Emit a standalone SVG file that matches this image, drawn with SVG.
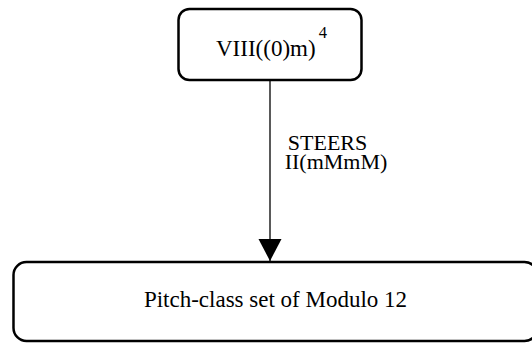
<svg xmlns="http://www.w3.org/2000/svg" width="532" height="343" viewBox="0 0 532 343">
<style>
.node{fill:#fff;stroke:#000;stroke-width:2.5}
.t{font-family:"Liberation Serif","Times New Roman",serif;fill:#000}
.edge{stroke:#000;stroke-width:1.3;fill:none}
</style>
<defs>
<marker id="arr" markerUnits="userSpaceOnUse" markerWidth="24" markerHeight="24" refX="22" refY="11.5" orient="auto" viewBox="0 0 24 24">
<path d="M0,0 L22,11.5 L0,23 z" fill="#000"/>
</marker>
</defs>
<rect width="532" height="343" fill="#fff"/>
<g id="connectors">
<path class="edge" d="M270,80 L270,261" marker-end="url(#arr)"/>
<text class="t" font-size="22" text-anchor="middle"><tspan x="327.5" y="150">STEERS</tspan><tspan x="336" y="169">II(mMmM)</tspan></text>
</g>
<g id="node-top">
<rect class="node" x="178.5" y="9" width="183" height="71" rx="11"/>
<text class="t" font-size="23" x="216" y="56">VIII((0)m)<tspan font-size="16.5" dx="3" dy="-18.5">4</tspan></text>
</g>
<g id="node-bottom">
<rect class="node" x="13.5" y="262" width="524" height="79" rx="13"/>
<text class="t" font-size="23" text-anchor="middle" x="275.5" y="307">Pitch-class set of Modulo 12</text>
</g>
</svg>
